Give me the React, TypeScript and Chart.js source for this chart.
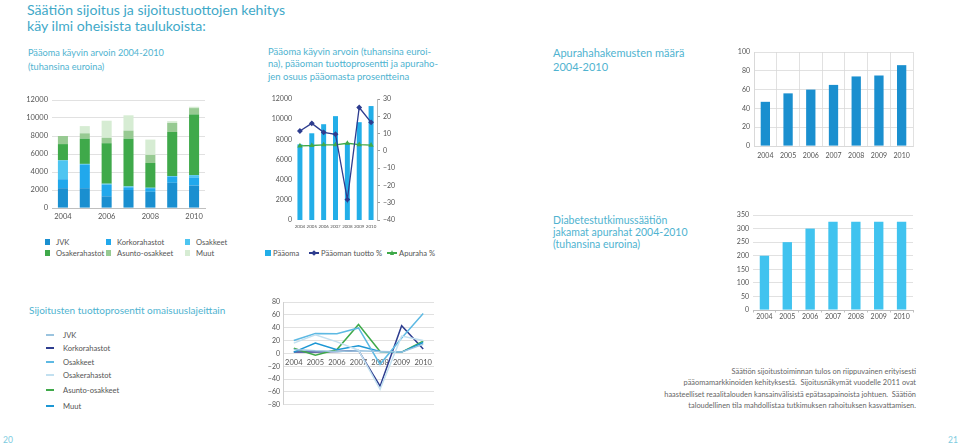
import React, { useEffect, useRef } from "react";
import { Chart, registerables } from "chart.js";
Chart.register(...registerables);

Chart.defaults.font.family = "Lato, 'Open Sans', sans-serif";
Chart.defaults.color = "#555";

// ---------- DATA ----------
const years = ["2004", "2005", "2006", "2007", "2008", "2009", "2010"];

// Chart 1: Pääoma käyvin arvoin (stacked, tuhansina euroina)
const jvk = [2200, 2200, 1300, 2000, 1800, 2800, 2500];
const korkorahastot = [1000, 2600, 1300, 300, 400, 700, 900];
const osakkeet = [2100, 100, 100, 100, 50, 50, 250];
const osakerahastot = [1800, 2800, 4500, 5300, 2750, 4900, 6750];
const asunto = [900, 600, 600, 900, 900, 1000, 700];
const muut = [0, 800, 1900, 1700, 1700, 200, 150];
const stackTicks = [0, 2000, 4000, 6000, 8000, 10000, 12000];

// Chart 2: Pääoma, Pääoman tuotto %, Apuraha %
const paaoma = [7500, 8600, 9500, 10300, 7600, 9700, 11300];
const tuottoPct = [11.5, 15.9, 10.7, 9.6, -28.2, 25.1, 16.5];
const apurahaPct = [2.9, 3.1, 3.5, 3.5, 4.4, 3.6, 3.3];

// Chart 3: Apurahahakemusten määrä
const hakemukset = [47, 56, 60, 65, 74, 75, 86];

// Chart 4: Jakamat apurahat (tuhansina euroina)
const apurahat = [200, 250, 300, 325, 325, 325, 325];

// Chart 5: Sijoitusten tuottoprosentit omaisuuslajeittain
const rJvk = [6, 4, 3, 4, 3, 2, 14];
const rKorko = [2, 2, 3, 4.6, -51, 43, 7];
const rOsakkeet = [20, 31, 30.5, 39.6, -17, 24, 62];
const rOsakerahastot = [16, 29, 18, 5, -56, 27, 20];
const rAsunto = [8, -3, 6, 45, 3, 2, 19];
const rMuut = [2, 16, 5.6, 11.7, 3, 2, 17];

// ---------- COLOURS ----------
const C = {
  jvk: "#1a8fd0",
  korko: "#21a8ec",
  osakkeet: "#4ec5f1",
  osakerahastot: "#3fa94a",
  asunto: "#97ca92",
  muut: "#d6ecd3",
  navy: "#2e3d8f",
  green: "#3fa94a",
  grid: "#d9d9d9",
  teal: "#3fa9c8",
};
const L = {
  jvk: "#9bc4df",
  korko: "#2e3d8f",
  osakkeet: "#5db9e3",
  osakerahastot: "#c2e0f0",
  asunto: "#3fa94a",
  muut: "#1d97d4",
};

const minus = (v: any) => String(v).replace("-", "\u2212");

function ChartBox(props: { left: number; top: number; width: number; height: number; make: () => any }) {
  const ref = useRef<HTMLCanvasElement>(null);
  useEffect(() => {
    const chart = new Chart(ref.current as HTMLCanvasElement, props.make());
    return () => chart.destroy();
  }, []);
  return (
    <div style={{ position: "absolute", left: props.left, top: props.top, width: props.width, height: props.height }}>
      <canvas ref={ref} />
    </div>
  );
}

const base = {
  animation: false,
  responsive: true,
  maintainAspectRatio: false,
  plugins: { legend: { display: false }, tooltip: { enabled: false } },
};

function chart1() {
  const ds = (label: string, data: number[], color: string) => ({
    label, data, backgroundColor: color, borderWidth: 0, barPercentage: 0.46, categoryPercentage: 1,
  });
  return {
    type: "bar",
    data: {
      labels: years,
      datasets: [
        ds("JVK", jvk, C.jvk),
        ds("Korkorahastot", korkorahastot, C.korko),
        ds("Osakkeet", osakkeet, C.osakkeet),
        ds("Osakerahastot", osakerahastot, C.osakerahastot),
        ds("Asunto-osakkeet", asunto, C.asunto),
        ds("Muut", muut, C.muut),
      ],
    },
    options: {
      ...base,
      layout: { padding: { top: 10, right: 5, left: 0, bottom: 0 } },
      scales: {
        x: {
          stacked: true,
          grid: { display: false, drawTicks: false },
          border: { display: true, color: "#bfbfbf" },
          ticks: { autoSkip: false, maxRotation: 0, padding: 4, font: { size: 7.5 }, callback: (_v: any, i: number) => (i % 2 === 0 ? years[i] : "") },
          afterFit: (s: any) => { s.height = 17; },
        },
        y: {
          stacked: true,
          min: 0, max: 12000,
          afterBuildTicks: (s: any) => { s.ticks = stackTicks.map((v) => ({ value: v })); },
          grid: { color: C.grid, lineWidth: 0.8, drawTicks: false },
          border: { display: false },
          ticks: { padding: 4, font: { size: 7.5 }, callback: (v: any) => String(v) },
          afterFit: (s: any) => { s.width = 42; },
        },
      },
    },
  };
}

function chart2() {
  return {
    type: "bar",
    data: {
      labels: years,
      datasets: [
        { type: "line", label: "Pääoman tuotto %", data: tuottoPct, yAxisID: "y1", borderColor: C.navy, backgroundColor: C.navy, borderWidth: 1.3, pointStyle: "rectRot", pointRadius: 2, order: 0 },
        { type: "line", label: "Apuraha %", data: apurahaPct, yAxisID: "y1", borderColor: C.green, backgroundColor: C.green, borderWidth: 1.3, pointStyle: "triangle", pointRadius: 1.8, order: 0 },
        { type: "bar", label: "Pääoma", data: paaoma, yAxisID: "y", backgroundColor: "#22aee8", borderWidth: 0, barPercentage: 0.42, categoryPercentage: 1, order: 1 },
      ],
    },
    options: {
      ...base,
      layout: { padding: { top: 10, right: 0, left: 0, bottom: 0 } },
      scales: {
        x: {
          grid: { display: false, drawTicks: false },
          border: { display: false },
          ticks: { autoSkip: false, maxRotation: 0, padding: 4, font: { size: 4.5 } },
          afterFit: (s: any) => { s.height = 14; },
        },
        y: {
          position: "left",
          min: 0, max: 12000,
          ticks: { stepSize: 2000, padding: 2, font: { size: 7 }, callback: (v: any) => String(v) },
          grid: { display: false, drawTicks: false },
          border: { display: false },
          afterFit: (s: any) => { s.width = 34; },
        },
        y1: {
          position: "right",
          min: -40, max: 30,
          ticks: { stepSize: 10, padding: 3, font: { size: 7 }, callback: minus },
          grid: { drawOnChartArea: false, drawTicks: true, tickLength: 3, color: "#999" },
          border: { display: true, color: "#999", width: 0.7 },
          afterFit: (s: any) => { s.width = 23; },
        },
      },
    },
  };
}

function chart3() {
  return {
    type: "bar",
    data: { labels: years, datasets: [{ data: hakemukset, backgroundColor: "#1a8fcf", borderWidth: 0, barPercentage: 0.41, categoryPercentage: 1 }] },
    options: {
      ...base,
      layout: { padding: { top: 10, right: 7, left: 0, bottom: 0 } },
      scales: {
        x: {
          grid: { display: true, offset: true, color: C.grid, lineWidth: 0.8, drawTicks: false },
          border: { display: true, color: C.grid },
          ticks: { autoSkip: false, maxRotation: 0, padding: 5.5, font: { size: 7 } },
          afterFit: (s: any) => { s.height = 16; },
        },
        y: {
          min: 0, max: 100,
          ticks: { stepSize: 10, padding: 4, font: { size: 7 }, callback: (v: any) => String(v) },
          grid: { color: C.grid, lineWidth: 0.8, drawTicks: false },
          border: { display: true, color: C.grid },
          afterFit: (s: any) => { s.width = 34; },
        },
      },
    },
  };
}

function chart4() {
  return {
    type: "bar",
    data: { labels: years, datasets: [{ data: apurahat, backgroundColor: "#40c3ef", borderWidth: 0, barPercentage: 0.41, categoryPercentage: 1 }] },
    options: {
      ...base,
      layout: { padding: { top: 10, right: 7, left: 0, bottom: 0 } },
      scales: {
        x: {
          grid: { display: true, offset: true, drawOnChartArea: false, drawTicks: true, tickLength: 2.5, color: "#bfbfbf" },
          border: { display: true, color: "#bfbfbf" },
          ticks: { autoSkip: false, maxRotation: 0, padding: 0, font: { size: 7 } },
          afterFit: (s: any) => { s.height = 15; },
        },
        y: {
          min: 0, max: 350,
          ticks: { stepSize: 50, padding: 4, font: { size: 7 }, callback: (v: any) => String(v) },
          grid: { color: C.grid, lineWidth: 0.8, drawTicks: false },
          border: { display: false },
          afterFit: (s: any) => { s.width = 33; },
        },
      },
    },
  };
}

function chart5() {
  const ln = (label: string, data: number[], color: string) => ({
    label, data, borderColor: color, backgroundColor: color, borderWidth: 1.5, pointRadius: 0, tension: 0,
  });
  return {
    type: "line",
    data: {
      labels: years,
      datasets: [
        ln("Osakerahastot", rOsakerahastot, L.osakerahastot),
        ln("JVK", rJvk, L.jvk),
        ln("Osakkeet", rOsakkeet, L.osakkeet),
        ln("Muut", rMuut, L.muut),
        ln("Asunto-osakkeet", rAsunto, L.asunto),
        ln("Korkorahastot", rKorko, L.korko),
      ],
    },
    options: {
      ...base,
      layout: { padding: { top: 10, right: 6, left: 0, bottom: 5 } },
      scales: {
        x: {
          position: { y: 0 },
          offset: true,
          grid: { display: false, drawTicks: false },
          border: { display: false },
          ticks: { autoSkip: false, maxRotation: 0, padding: 5, font: { size: 7.5 } },
        },
        y: {
          min: -80, max: 80,
          ticks: { stepSize: 20, padding: 3, font: { size: 7 }, callback: minus },
          grid: { color: C.grid, lineWidth: 0.8, drawTicks: false },
          border: { display: true, color: "#d0d0d0" },
          afterFit: (s: any) => { s.width = 33; },
        },
      },
    },
  };
}

const txt: React.CSSProperties = { position: "absolute", fontFamily: "Lato, sans-serif", whiteSpace: "nowrap" };
const sub: React.CSSProperties = { ...txt, color: "#4fb3d0", fontSize: 9.5, lineHeight: "14px" };
const legTxt: React.CSSProperties = { ...txt, fontSize: 7.6, lineHeight: "12px", color: "#555" };

function Sq({ x, y, c, label }: { x: number; y: number; c: string; label: string }) {
  return (
    <>
      <div style={{ position: "absolute", left: x, top: y - 3, width: 5, height: 6, background: c }} />
      <div style={{ ...legTxt, left: x + 11, top: y - 6 }}>{label}</div>
    </>
  );
}

function LegLine({ y, c, label }: { y: number; c: string; label: string }) {
  return (
    <>
      <div style={{ position: "absolute", left: 46, top: y - 1, width: 8, height: 2, background: c }} />
      <div style={{ ...legTxt, left: 63, top: y - 6 }}>{label}</div>
    </>
  );
}

export default function App() {
  return (
    <div style={{ position: "absolute", left: 0, top: 0, width: 960, height: 445, background: "#fff", overflow: "hidden" }}>
      <div style={{ ...txt, left: 27, top: 2, color: C.teal, fontSize: 14.1, lineHeight: "15.5px" }}>
        Säätiön sijoitus ja sijoitustuottojen kehitys<br />käy ilmi oheisista taulukoista:
      </div>

      <div style={{ ...sub, left: 28, top: 45.5, fontSize: 9.2 }}>Pääoma käyvin arvoin 2004-2010<br />(tuhansina euroina)</div>
      <div style={{ ...sub, left: 268, top: 45.5, lineHeight: "12.5px" }}>
        Pääoma käyvin arvoin (tuhansina euroi-<br />na), pääoman tuottoprosentti ja apuraho-<br />jen osuus pääomasta prosentteina
      </div>
      <div style={{ ...sub, left: 553, top: 45.5, fontSize: 11 }}>Apurahahakemusten määrä<br />2004-2010</div>
      <div style={{ ...sub, left: 553, top: 213.5, fontSize: 10.5, lineHeight: "12px" }}>
        Diabetestutkimussäätiön<br />jakamat apurahat 2004-2010<br />(tuhansina euroina)
      </div>
      <div style={{ ...txt, left: 29, top: 303, color: "#4fb3d0", fontSize: 10, lineHeight: "14px" }}>
        Sijoitusten tuottoprosentit omaisuuslajeittain
      </div>

      <ChartBox left={10} top={90} width={200} height={135} make={chart1} />
      <Sq x={45} y={241.5} c={C.jvk} label="JVK" />
      <Sq x={106} y={241.5} c={C.korko} label="Korkorahastot" />
      <Sq x={185} y={241.5} c={C.osakkeet} label="Osakkeet" />
      <Sq x={45} y={253} c={C.osakerahastot} label="Osakerahastot" />
      <Sq x={106} y={253} c={C.asunto} label="Asunto-osakkeet" />
      <Sq x={185} y={253} c={C.muut} label="Muut" />

      <ChartBox left={260} top={89} width={140} height={145} make={chart2} />
      <div style={{ position: "absolute", left: 265, top: 249.5, width: 6, height: 6, background: "#22aee8" }} />
      <div style={{ ...legTxt, left: 273, top: 246.5 }}>Pääoma</div>
      <div style={{ position: "absolute", left: 309, top: 252, width: 10, height: 1.5, background: C.navy }} />
      <div style={{ position: "absolute", left: 312, top: 250.5, width: 4, height: 4, background: C.navy, transform: "rotate(45deg)" }} />
      <div style={{ ...legTxt, left: 321, top: 246.5 }}>Pääoman tuotto %</div>
      <div style={{ position: "absolute", left: 387, top: 252, width: 10, height: 1.5, background: C.green }} />
      <div style={{ position: "absolute", left: 389.5, top: 249.5, width: 0, height: 0, borderLeft: "2.5px solid transparent", borderRight: "2.5px solid transparent", borderBottom: "5px solid " + C.green }} />
      <div style={{ ...legTxt, left: 399, top: 246.5 }}>Apuraha %</div>

      <ChartBox left={720} top={42} width={200} height={120} make={chart3} />
      <ChartBox left={720} top={205} width={200} height={120} make={chart4} />

      <ChartBox left={250} top={292} width={190} height={120} make={chart5} />
      <LegLine y={335} c={L.jvk} label="JVK" />
      <LegLine y={348.3} c={L.korko} label="Korkorahastot" />
      <LegLine y={361.7} c={L.osakkeet} label="Osakkeet" />
      <LegLine y={375} c={L.osakerahastot} label="Osakerahastot" />
      <LegLine y={390} c={L.asunto} label="Asunto-osakkeet" />
      <LegLine y={405.7} c={L.muut} label="Muut" />

      <div style={{ ...txt, right: 44, top: 365.5, textAlign: "right", fontSize: 7.4, lineHeight: "11.5px", color: "#666" }}>
        Säätiön sijoitustoiminnan tulos on riippuvainen erityisesti<br />
        pääomamarkkinoiden kehityksestä.&nbsp; Sijoitusnäkymät vuodelle 2011 ovat<br />
        haasteelliset reaalitalouden kansainvälisistä epätasapainoista johtuen.&nbsp; Säätiön<br />
        taloudellinen tila mahdollistaa tutkimuksen rahoituksen kasvattamisen.
      </div>

      <div style={{ ...txt, left: 3, top: 435, fontSize: 8.5, lineHeight: "10px", color: "#7ccbe0" }}>20</div>
      <div style={{ ...txt, left: 948, top: 435, fontSize: 8.5, lineHeight: "10px", color: "#7ccbe0" }}>21</div>
    </div>
  );
}
